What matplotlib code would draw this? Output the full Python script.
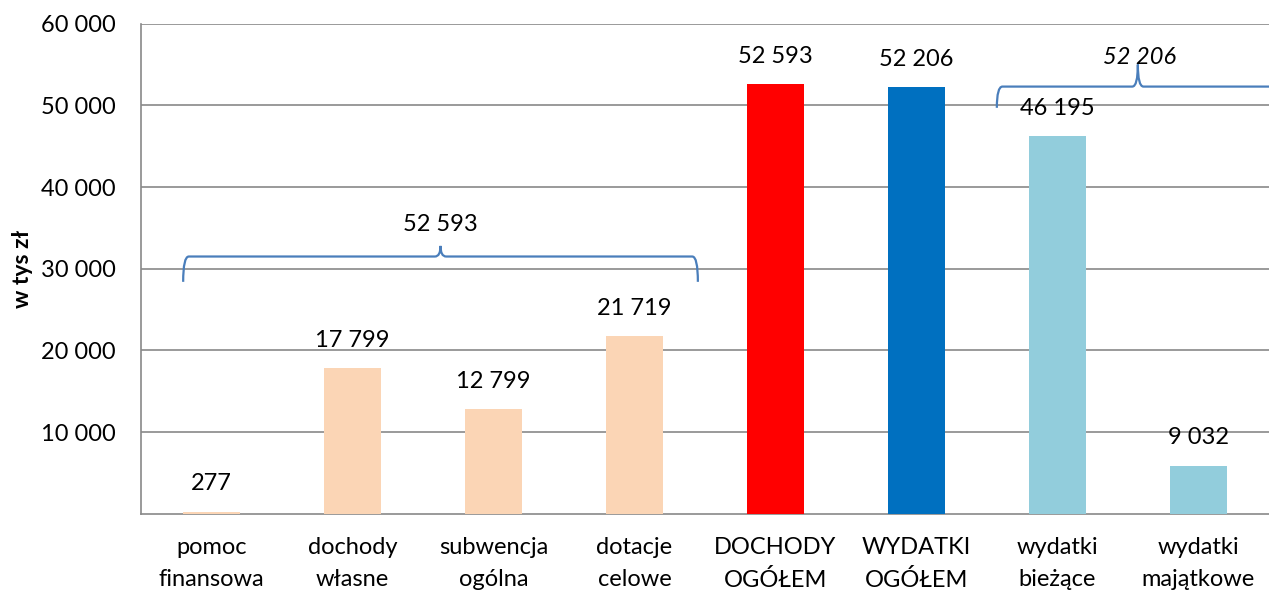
import numpy as np
import matplotlib.pyplot as plt
from matplotlib.path import Path
from matplotlib.patches import PathPatch

plt.rcParams['font.family'] = ['Lato', 'DejaVu Sans']

categories = ['pomoc\nfinansowa', 'dochody\nwłasne', 'subwencja\nogólna', 'dotacje\ncelowe',
              'DOCHODY\nOGÓŁEM', 'WYDATKI\nOGÓŁEM', 'wydatki\nbieżące', 'wydatki\nmajątkowe']
values = [277, 17799, 12799, 21719, 52593, 52206, 46195, 9032]
# bar heights as drawn in the source (last bar is shorter than its label says)
heights = [277, 17799, 12799, 21719, 52593, 52206, 46195, 5900]
colors = ['#FBD5B5', '#FBD5B5', '#FBD5B5', '#FBD5B5', '#FF0000', '#0070C0', '#92CDDC', '#92CDDC']
yticks = [10000, 20000, 30000, 40000, 50000, 60000]
brace_labels = ['52 593', '52 206']

FS = 17


def fmt(v):
    return '{:,}'.format(v).replace(',', ' ')


def brace(ax, x0, x1, y, h, tip, color='#4A7EBB'):
    xm = (x0 + x1) / 2
    r = 0.04
    verts = [(x0, y - h), (x0, y), (x0 + r, y),
             (xm - r, y), (xm, y), (xm, y + tip),
             (xm, y), (xm + r, y),
             (x1 - r, y), (x1, y), (x1, y - h)]
    codes = [Path.MOVETO, Path.CURVE3, Path.CURVE3,
             Path.LINETO, Path.CURVE3, Path.CURVE3,
             Path.CURVE3, Path.CURVE3,
             Path.LINETO, Path.CURVE3, Path.CURVE3]
    ax.add_patch(PathPatch(Path(verts, codes), fill=False, edgecolor=color, lw=1.6, zorder=4))


fig = plt.figure(figsize=(12.69, 5.92), dpi=100)
ax = fig.add_axes([0.111, 0.132, 0.889, 0.828])

x = np.arange(len(categories))
ax.bar(x, heights, width=0.4, color=colors, zorder=3)

for xi, h, v in zip(x, heights, values):
    ax.annotate(fmt(v), (xi, h), xytext=(0, 20), textcoords='offset points',
                ha='center', va='center', fontsize=FS, zorder=5)

ax.set_xlim(-0.5, 7.5)
ax.set_ylim(0, 60000)
ax.set_yticks(yticks)
ax.set_yticklabels([fmt(t) for t in yticks], fontsize=FS)
ax.set_xticks(x)
ax.set_xticklabels(categories, fontsize=FS, linespacing=1.6)
ax.tick_params(length=0, pad=18)
ax.tick_params(axis='x', pad=17)
ax.yaxis.grid(True, color='#898989', lw=1.2, zorder=0)
for s in ['top', 'right']:
    ax.spines[s].set_visible(False)
for s in ['left', 'bottom']:
    ax.spines[s].set_color('#898989')
    ax.spines[s].set_linewidth(1.2)
ax.set_ylabel('w tys zł', fontsize=16.5, fontweight='bold')
ax.yaxis.set_label_coords(-0.096, 0.5)

brace(ax, -0.2, 3.45, 31500, 3100, 1300)
ax.text(1.625, 35400, brace_labels[0], ha='center', va='center', fontsize=FS)
brace(ax, 5.57, 7.57, 52300, 2600, 2700)
ax.text(6.58, 55900, brace_labels[1], ha='center', va='center', fontsize=FS, style='italic')

fig.savefig('out.png', dpi=100)
